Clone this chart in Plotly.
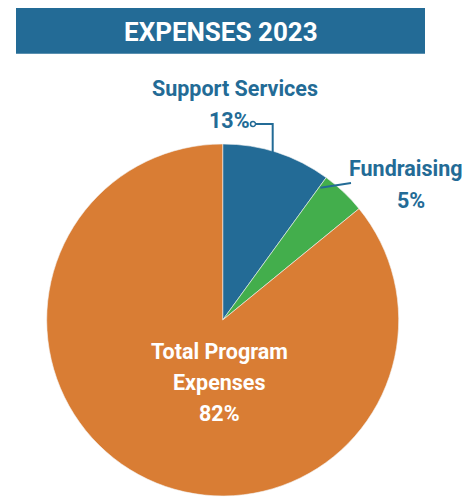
import plotly.graph_objects as go

# ---- data ----
categories = ["Support Services", "Fundraising", "Total Program Expenses"]
slice_shares = [10.0, 4.1, 85.9]          # drawn slice sizes (share of circle)
pct_labels = ["13%", "5%", "82%"]         # printed labels
colors = ["#236B96", "#43AE4C", "#D97D34"]
title_text = "EXPENSES 2023"

W, H = 466, 497
FONT = "Roboto, Liberation Sans, sans-serif"
BLUE = "#236B96"
LS = 21.5   # label font size

def px(x):
    return x / W

def py(y):
    return 1 - y / H

# pie placement (pixels)
cx, cy, r = 222.7, 320.0, 176.0

fig = go.Figure(go.Pie(
    labels=categories,
    values=slice_shares,
    sort=False,
    direction="clockwise",
    rotation=0,
    marker=dict(colors=colors, line=dict(color="#f4f4f4", width=0.6)),
    textinfo="none",
    hoverinfo="label",
    showlegend=False,
    domain=dict(x=[px(cx - r), px(cx + r)], y=[py(cy + r), py(cy - r)]),
))

shapes = [
    # title banner
    dict(type="rect", xref="paper", yref="paper",
         x0=px(16), x1=px(425), y0=py(53.7), y1=py(8),
         fillcolor=BLUE, line=dict(width=0), layer="below"),
    # Support Services leader
    dict(type="path", xref="paper", yref="paper",
         path=f"M {px(255)} {py(124)} L {px(272.7)} {py(124)} L {px(272.7)} {py(152)}",
         line=dict(color=BLUE, width=2)),
    dict(type="circle", xref="paper", yref="paper",
         x0=px(250.5), x1=px(255.5), y0=py(126.5), y1=py(121.5),
         line=dict(color=BLUE, width=1.5), fillcolor="white"),
    # Fundraising leader
    dict(type="line", xref="paper", yref="paper",
         x0=px(320.3), y0=py(187.7), x1=px(351), y1=py(183),
         line=dict(color=BLUE, width=2)),
]

def ann(text, x, y, size, color, xanchor="center"):
    return dict(text=f"<b>{text}</b>", x=px(x), y=py(y), xref="paper", yref="paper",
                showarrow=False, font=dict(family=FONT, size=size, color=color),
                xanchor=xanchor, yanchor="middle")

annotations = [
    ann(title_text, 220.5, 31.5, 26, "white"),
    ann(categories[0], 234.5, 88, LS, BLUE),
    ann(pct_labels[0], 229, 120, LS, BLUE),
    ann(categories[1], 465, 168, LS, BLUE, xanchor="right"),
    ann(pct_labels[1], 411, 200, LS, BLUE),
    ann("Total Program", 219, 351, LS, "white"),
    ann("Expenses", 219, 382, LS, "white"),
    ann(pct_labels[2], 219, 413, LS, "white"),
]

fig.update_layout(
    width=W, height=H, autosize=False,
    margin=dict(l=0, r=0, t=0, b=0),
    paper_bgcolor="white", plot_bgcolor="white",
    shapes=shapes, annotations=annotations,
)

fig.write_html("out.html", config={"displayModeBar": False},
               post_script="document.body.style.margin='0';")
